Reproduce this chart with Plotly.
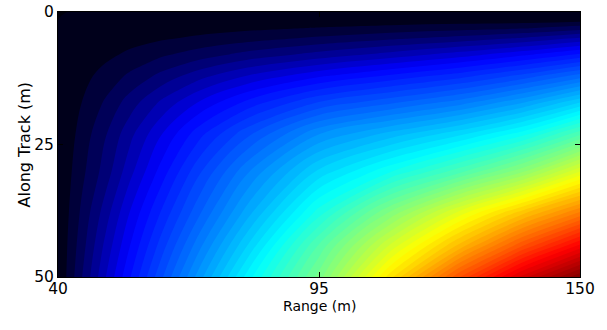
import plotly.graph_objects as go

# Range (m) grid positions
range_m = [40, 42, 45, 50, 55, 62, 70, 80, 95, 110, 125, 138, 150]
# Along-track (m) grid positions
along_m = [0, 1.5, 3, 5, 8, 12, 17, 23, 30, 38, 44, 50]

# Normalised values (rows = along-track, cols = range)
row_00 = [0, 0, 0, 0, 0, 0, 0, 0, 0, 0, 0, 0, 0]
row_01 = [0, 0.0002, 0.0004, 0.0007, 0.0011, 0.0016, 0.0022, 0.003, 0.0041, 0.0052, 0.0063, 0.0073, 0.0092]
row_03 = [0, 0.0006, 0.0015, 0.003, 0.0045, 0.0065, 0.0089, 0.0119, 0.0163, 0.0208, 0.0252, 0.0291, 0.0388]
row_05 = [0, 0.0013, 0.0032, 0.0063, 0.0095, 0.0139, 0.0189, 0.0252, 0.0347, 0.0442, 0.0536, 0.0654, 0.0816]
row_08 = [0, 0.0025, 0.0059, 0.0117, 0.0185, 0.0286, 0.039, 0.052, 0.0679, 0.0837, 0.1016, 0.1209, 0.1429]
row_12 = [0, 0.0041, 0.0102, 0.0214, 0.0337, 0.0516, 0.0722, 0.0939, 0.1212, 0.1429, 0.1648, 0.192, 0.2245]
row_17 = [0, 0.0059, 0.0156, 0.0332, 0.0534, 0.0816, 0.1113, 0.1448, 0.1877, 0.214, 0.2422, 0.2792, 0.3265]
row_23 = [0, 0.0082, 0.0215, 0.0457, 0.0723, 0.1096, 0.1518, 0.1992, 0.2649, 0.3029, 0.34, 0.384, 0.449]
row_30 = [0, 0.0108, 0.0269, 0.0538, 0.0872, 0.1326, 0.1856, 0.2475, 0.3314, 0.3879, 0.4481, 0.5114, 0.5918]
row_38 = [0, 0.0137, 0.0344, 0.0707, 0.1092, 0.1601, 0.2183, 0.291, 0.4002, 0.505, 0.605, 0.685, 0.7551]
row_44 = [0, 0.016, 0.0399, 0.0822, 0.1233, 0.1808, 0.2465, 0.3287, 0.455, 0.58, 0.695, 0.795, 0.8776]
row_50 = [0, 0.018, 0.046, 0.093, 0.138, 0.202, 0.276, 0.367, 0.492, 0.65, 0.80, 0.915, 1.0]

values = [row_00, row_01, row_03, row_05, row_08, row_12, row_17,
          row_23, row_30, row_38, row_44, row_50]

x_ticks = [40, 95, 150]
y_ticks = [0, 25, 50]
x_title = "Range (m)"
y_title = "Along Track (m)"

colorscale = [
    [0.0, "rgb(0,0,12)"],
    [0.125, "rgb(0,0,255)"],
    [0.375, "rgb(0,255,255)"],
    [0.625, "rgb(255,255,0)"],
    [0.875, "rgb(255,0,0)"],
    [1.0, "rgb(128,0,0)"],
]

FONT = "DejaVu Sans, Arial, sans-serif"

fig = go.Figure(
    go.Contour(
        x=range_m,
        y=along_m,
        z=values,
        zmin=0,
        zmax=1,
        colorscale=colorscale,
        contours=dict(start=0, end=1, size=1 / 64, coloring="fill"),
        line=dict(width=0, smoothing=1.0),
        showscale=False,
        hoverinfo="skip",
    )
)

axis_common = dict(
    automargin=False,
    showline=True,
    linecolor="black",
    linewidth=1,
    mirror="ticks",
    ticks="inside",
    ticklen=5,
    tickwidth=1,
    tickcolor="black",
    showgrid=False,
    zeroline=False,
    ticklabeloverflow="allow",
    tickfont=dict(family=FONT, size=15.5, color="black"),
)

fig.update_xaxes(
    range=[40, 150],
    tickmode="array",
    tickvals=x_ticks,
    ticktext=[str(v) for v in x_ticks],
    ticklabelstandoff=-3,
    **axis_common,
)
fig.update_yaxes(
    range=[50, 0],
    tickmode="array",
    tickvals=y_ticks,
    ticktext=[str(v) for v in y_ticks],
    **axis_common,
)

fig.add_annotation(
    text=x_title, xref="paper", yref="paper", x=0.5, y=0,
    yshift=-29, xanchor="center", yanchor="middle", showarrow=False,
    font=dict(family=FONT, size=14, color="black"),
)
fig.add_annotation(
    text=y_title, xref="paper", yref="paper", x=0, y=0.5,
    xshift=-34, xanchor="center", yanchor="middle", textangle=-90,
    showarrow=False, font=dict(family=FONT, size=16, color="black"),
)

fig.update_layout(
    template="none",
    width=607,
    height=330,
    margin=dict(l=58, r=27, t=12, b=53, autoexpand=False),
    paper_bgcolor="white",
    plot_bgcolor="white",
    showlegend=False,
)

fig.write_html(
    "out.html",
    config={"displayModeBar": False, "staticPlot": True},
    post_script="document.body.style.margin='0';document.body.style.overflow='hidden';",
)
